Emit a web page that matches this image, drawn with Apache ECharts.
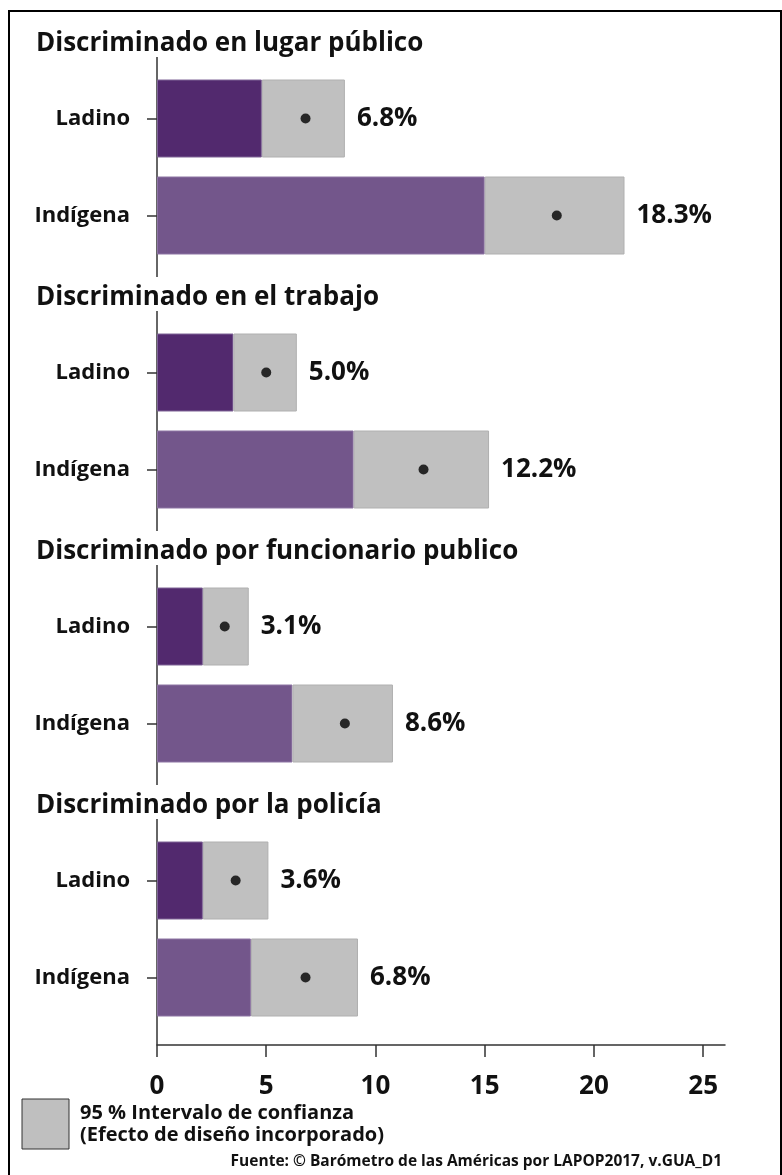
<!DOCTYPE html>
<html>
<head>
<meta charset="utf-8">
<script src="https://cdn.jsdelivr.net/npm/echarts@6/dist/echarts.min.js"></script>
<style>
  html, body { margin: 0; padding: 0; background: #fff; }
  #chart { width: 782px; height: 1175px; }
</style>
</head>
<body>
<div id="chart"></div>
<script>
// datos (porcentajes)
var panelTitles = ['Discriminado en lugar público', 'Discriminado en el trabajo',
                   'Discriminado por funcionario publico', 'Discriminado por la policía'];
var groups = ['Ladino', 'Indígena'];
var estimates = [[6.8, 18.3], [5.0, 12.2], [3.1, 8.6], [3.6, 6.8]];
var lowerCI = [[4.8, 15.0], [3.5, 9.0], [2.1, 6.2], [2.1, 4.3]];
var upperCI = [[8.6, 21.4], [6.4, 15.2], [4.2, 10.8], [5.1, 9.2]];
var xTicks = [0, 5, 10, 15, 20, 25];

var FONT = 'Open Sans';
var purples = ['#52296e', '#73568b'];
var borders = ['#7e6496', '#8d74a3'];

var chart = echarts.init(document.getElementById('chart'));

var grids = [], xAxes = [], yAxes = [], series = [], graphics = [];
var panelStep = 254;

panelTitles.forEach(function (title, p) {
  var top = 70 + p * panelStep;
  var last = p === panelTitles.length - 1;
  grids.push({ left: 157, right: 57, top: top, height: 194 });
  xAxes.push({
    gridIndex: p, type: 'value', min: 0, max: 26,
    show: last, offset: 19,
    axisLine: { show: true, lineStyle: { color: '#333', width: 1.5 } },
    axisTick: { show: true, length: 12, customValues: xTicks, lineStyle: { color: '#333', width: 1.5 } },
    axisLabel: { customValues: xTicks, margin: 29, fontFamily: FONT, fontWeight: 'bold', fontSize: 26, color: '#111' },
    splitLine: { show: false }
  });
  yAxes.push({
    gridIndex: p, type: 'category', data: groups, inverse: true,
    axisLine: { show: false },
    axisTick: { show: true, length: 10, alignWithLabel: true, lineStyle: { color: '#333', width: 1.5 } },
    axisLabel: { margin: 27, fontFamily: FONT, fontWeight: 'bold', fontSize: 22, color: '#111' }
  });

  series.push({
    type: 'bar', xAxisIndex: p, yAxisIndex: p, stack: 's' + p, barWidth: 78,
    silent: true,
    data: lowerCI[p].map(function (v, i) {
      return { value: v, itemStyle: { color: purples[i], borderColor: borders[i], borderWidth: 1 } };
    })
  });
  series.push({
    type: 'bar', xAxisIndex: p, yAxisIndex: p, stack: 's' + p, barWidth: 78,
    silent: true,
    itemStyle: { color: '#c0c0c0', borderColor: '#b0b0b0', borderWidth: 1 },
    label: {
      show: true, position: 'right', distance: 12,
      fontFamily: FONT, fontWeight: 'bold', fontSize: 26, color: '#111',
      formatter: function (prm) { return estimates[p][prm.dataIndex].toFixed(1) + '%'; }
    },
    data: upperCI[p].map(function (v, i) { return +(v - lowerCI[p][i]).toFixed(2); })
  });
  series.push({
    type: 'scatter', xAxisIndex: p, yAxisIndex: p, symbolSize: 10, silent: true,
    itemStyle: { color: '#000' }, z: 5,
    data: estimates[p].map(function (v, i) { return [v, groups[i]]; })
  });

  // título del panel
  graphics.push({
    type: 'text', left: 36, top: 31 + p * panelStep,
    style: { text: title, fontFamily: FONT, fontWeight: 'bold', fontSize: 26, fill: '#111' }
  });
  // línea vertical del eje
  graphics.push({
    type: 'line',
    shape: { x1: 157, y1: 57 + p * panelStep, x2: 157, y2: last ? 1045 : 277 + p * panelStep },
    style: { stroke: '#333', lineWidth: 1.5 }
  });
});

// marco
graphics.push({ type: 'rect', shape: { x: 9, y: 11, width: 772, height: 1200 },
  style: { fill: 'none', stroke: '#000', lineWidth: 2 } });
// leyenda
graphics.push({ type: 'rect', shape: { x: 22, y: 1099, width: 47, height: 50 },
  style: { fill: '#bfbfbf', stroke: '#333', lineWidth: 1 } });
graphics.push({ type: 'text', left: 80, top: 1102,
  style: { text: '95 % Intervalo de confianza\n(Efecto de diseño incorporado)', lineHeight: 22,
           fontFamily: FONT, fontWeight: 'bold', fontSize: 20, fill: '#111' } });
graphics.push({ type: 'text', right: 60, top: 1154,
  style: { text: 'Fuente: © Barómetro de las Américas por LAPOP2017, v.GUA_D1',
           fontFamily: FONT, fontWeight: 'bold', fontSize: 15.5, fill: '#111' } });

chart.setOption({
  animation: false,
  grid: grids,
  xAxis: xAxes,
  yAxis: yAxes,
  series: series,
  graphic: graphics
});
</script>
</body>
</html>
